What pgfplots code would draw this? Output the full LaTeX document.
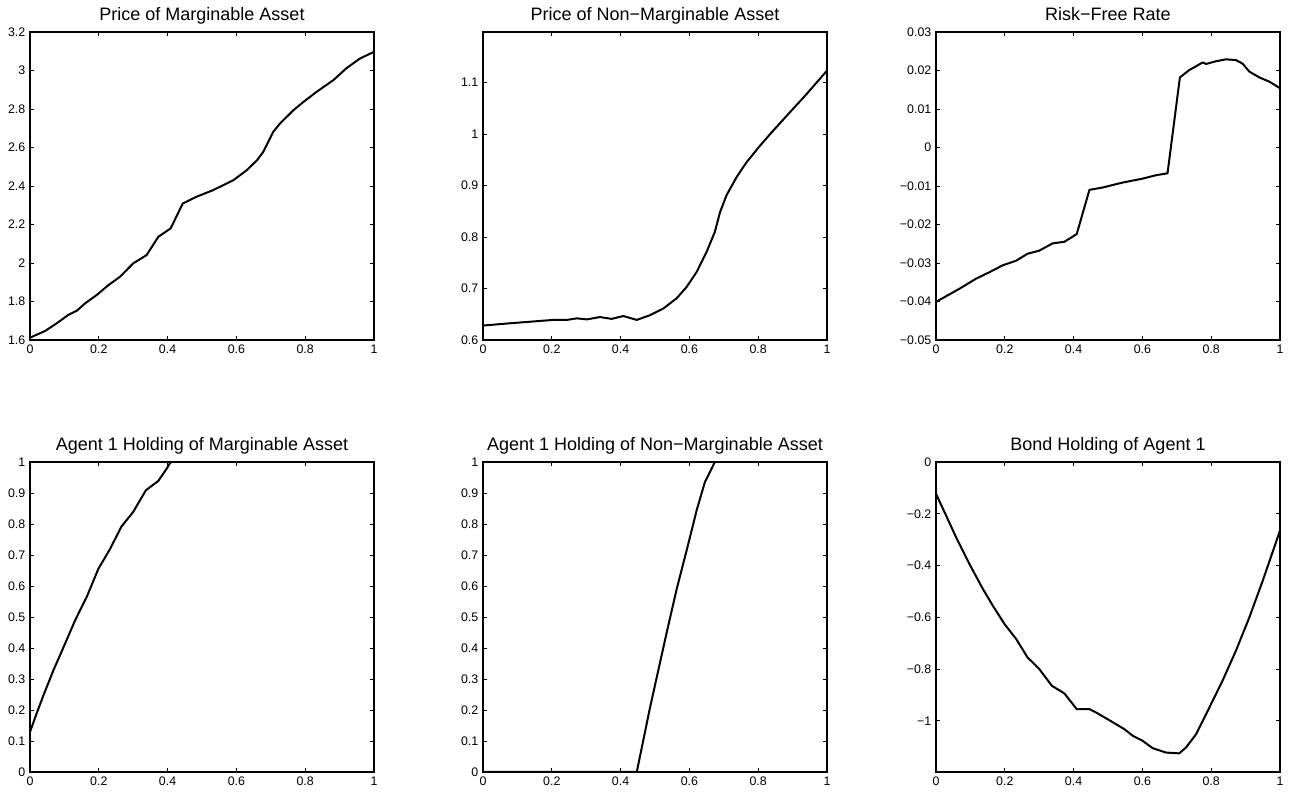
\documentclass[border=0pt]{standalone}
\usepackage{fontspec}
\setmainfont{Liberation Sans}
\usepackage{pgfplots}
\pgfplotsset{compat=1.18}

\pgfplotsset{
  panel/.style={
    scale only axis,
    width=258pt,
    xmin=0, xmax=1,
    xtick={0,0.2,0.4,0.6,0.8,1},
    scaled ticks=false,
    /pgf/number format/assume math mode=true,
    tick label style={font=\fontsize{9.3}{10}\selectfont},
    every axis title shift=0pt,
    title style={font=\fontsize{13.5}{15}\selectfont, at={(0.5,1)}, anchor=base, yshift=8.25pt},
    axis line style={line width=0.8pt},
    every tick/.style={black, line width=0.6pt},
    major tick length=3pt,
    tick align=inside,
    anchor=south west,
  },
  curve/.style={black, line width=1.5pt, line join=round},
  toprow/.style={panel, height=231pt},
  botrow/.style={panel, height=232.5pt},
}

\begin{document}
\begin{tikzpicture}
\path[use as bounding box] (0,0) rectangle (969.75pt,594pt);

% top row
\begin{axis}[toprow, at={(22.5pt,339pt)},
  title={Price of Marginable Asset},
  ymin=1.6, ymax=3.2, ytick={1.6,1.8,2,2.2,2.4,2.6,2.8,3,3.2},
  yticklabels={1.6,1.8,2,2.2,2.4,2.6,2.8,3,3.2}]
\addplot[curve] coordinates {
(0,1.612) (0.044,1.647) (0.078,1.687) (0.111,1.730) (0.136,1.752)
(0.160,1.790) (0.194,1.834) (0.228,1.885) (0.262,1.929) (0.300,1.998)
(0.339,2.041) (0.373,2.136) (0.409,2.180) (0.444,2.309) (0.484,2.344)
(0.533,2.379) (0.591,2.430) (0.630,2.482) (0.660,2.534) (0.678,2.577)
(0.707,2.681) (0.727,2.725) (0.766,2.794) (0.795,2.837) (0.833,2.889)
(0.882,2.950) (0.920,3.012) (0.959,3.062) (1.000,3.097)};
\end{axis}

\begin{axis}[toprow, at={(362.25pt,339pt)},
  title={Price of Non−Marginable Asset},
  ymin=0.6, ymax=1.198, ytick={0.6,0.7,0.8,0.9,1,1.1},
  yticklabels={0.6,0.7,0.8,0.9,1,1.1}]
\addplot[curve] coordinates {
(0,0.628) (0.070,0.632) (0.128,0.635) (0.166,0.637) (0.205,0.639)
(0.244,0.639) (0.273,0.642) (0.302,0.640) (0.340,0.6445) (0.374,0.641)
(0.408,0.6465) (0.447,0.639) (0.485,0.648) (0.524,0.661) (0.563,0.681)
(0.592,0.703) (0.621,0.732) (0.650,0.771) (0.674,0.810) (0.689,0.848)
(0.708,0.881) (0.737,0.916) (0.766,0.945) (0.805,0.977) (0.843,1.006)
(0.892,1.042) (0.940,1.077) (1.000,1.123)};
\end{axis}

\begin{axis}[toprow, at={(702pt,339pt)},
  title={Risk−Free Rate},
  ymin=-0.05, ymax=0.03,
  ytick={-0.05,-0.04,-0.03,-0.02,-0.01,0,0.01,0.02,0.03},
  yticklabels={−0.05,−0.04,−0.03,−0.02,−0.01,0,0.01,0.02,0.03}]
\addplot[curve] coordinates {
(0,-0.0401) (0.068,-0.0367) (0.116,-0.0341) (0.155,-0.0324) (0.194,-0.0306)
(0.233,-0.0294) (0.266,-0.0276) (0.300,-0.0268) (0.339,-0.0249) (0.373,-0.0245)
(0.409,-0.0225) (0.446,-0.0110) (0.484,-0.0104) (0.543,-0.0091) (0.600,-0.0081)
(0.640,-0.0072) (0.673,-0.0067) (0.709,0.0182) (0.736,0.0201) (0.756,0.0211)
(0.775,0.0221) (0.785,0.0217) (0.814,0.0224) (0.843,0.0229) (0.872,0.0227)
(0.891,0.0218) (0.911,0.0197) (0.940,0.0182) (0.969,0.0171) (1.000,0.0154)};
\end{axis}

% bottom row
\begin{axis}[botrow, at={(22.5pt,15pt)},
  title={Agent 1 Holding of Marginable Asset},
  ymin=0, ymax=1, ytick={0,0.1,0.2,0.3,0.4,0.5,0.6,0.7,0.8,0.9,1},
  yticklabels={0,0.1,0.2,0.3,0.4,0.5,0.6,0.7,0.8,0.9,1}]
\addplot[curve] coordinates {
(0,0.129) (0.019,0.188) (0.039,0.247) (0.068,0.328) (0.102,0.414)
(0.131,0.489) (0.165,0.565) (0.199,0.656) (0.233,0.720) (0.266,0.792)
(0.300,0.839) (0.337,0.909) (0.373,0.939) (0.397,0.978) (0.409,1.0)
(1.000,1.0)};
\end{axis}

\begin{axis}[botrow, at={(362.25pt,15pt)},
  title={Agent 1 Holding of Non−Marginable Asset},
  ymin=0, ymax=1, ytick={0,0.1,0.2,0.3,0.4,0.5,0.6,0.7,0.8,0.9,1},
  yticklabels={0,0.1,0.2,0.3,0.4,0.5,0.6,0.7,0.8,0.9,1}]
\addplot[curve] coordinates {
(0,0) (0.447,0) (0.485,0.205) (0.510,0.330) (0.534,0.450) (0.563,0.590)
(0.592,0.715) (0.621,0.844) (0.645,0.935) (0.674,1.0) (1.000,1.0)};
\end{axis}

\begin{axis}[botrow, at={(702pt,15pt)},
  title={Bond Holding of Agent 1},
  ymin=-1.198, ymax=0, ytick={-1,-0.8,-0.6,-0.4,-0.2,0},
  yticklabels={−1,−0.8,−0.6,−0.4,−0.2,0}]
\addplot[curve] coordinates {
(0,-0.123) (0.029,-0.206) (0.058,-0.290) (0.097,-0.394) (0.136,-0.490)
(0.165,-0.555) (0.199,-0.626) (0.233,-0.684) (0.266,-0.755) (0.300,-0.800)
(0.337,-0.865) (0.373,-0.894) (0.409,-0.955) (0.446,-0.955) (0.465,-0.968)
(0.499,-0.994) (0.523,-1.013) (0.547,-1.032) (0.572,-1.058) (0.600,-1.077)
(0.630,-1.106) (0.669,-1.123) (0.707,-1.126) (0.727,-1.103) (0.756,-1.052)
(0.795,-0.948) (0.833,-0.845) (0.872,-0.729) (0.911,-0.600) (0.950,-0.458)
(1.000,-0.265)};
\end{axis}
\end{tikzpicture}
\end{document}
